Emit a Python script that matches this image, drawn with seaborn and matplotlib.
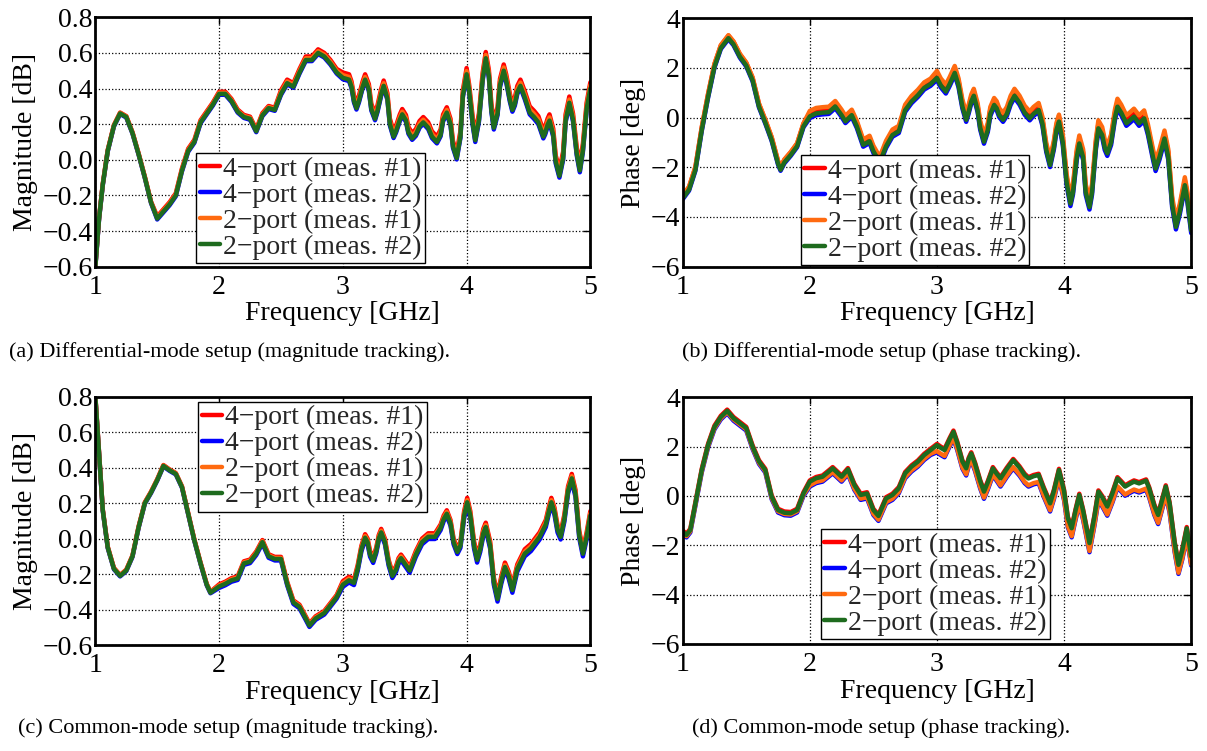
import seaborn as sns
import matplotlib.pyplot as plt
from matplotlib.ticker import FuncFormatter

# ---- data (frequency in GHz) ----
series_labels = ['4\u2212port (meas. #1)', '4\u2212port (meas. #2)',
                 '2\u2212port (meas. #1)', '2\u2212port (meas. #2)']
series_colors = ['#FF0000', '#0000FF', '#FF6A10', '#1E6B1E']

# (a) differential-mode magnitude [dB]
a_freq = [1.00, 1.03, 1.06, 1.10, 1.15, 1.20, 1.25, 1.30, 1.35, 1.40,
          1.45, 1.50, 1.55, 1.60, 1.65, 1.70, 1.75, 1.80, 1.85, 1.90,
          1.95, 2.00, 2.05, 2.10, 2.15, 2.20, 2.25, 2.30, 2.35, 2.40,
          2.45, 2.50, 2.55, 2.60, 2.65, 2.70, 2.75, 2.80, 2.85, 2.90,
          2.95, 3.00, 3.05, 3.07, 3.09, 3.11, 3.13, 3.16, 3.18, 3.21,
          3.23, 3.26, 3.28, 3.31, 3.33, 3.36, 3.38, 3.41, 3.43, 3.46,
          3.48, 3.51, 3.53, 3.56, 3.59, 3.62, 3.65, 3.69, 3.72, 3.76,
          3.79, 3.81, 3.84, 3.87, 3.89, 3.92, 3.95, 3.97, 4.00, 4.02,
          4.05, 4.07, 4.10, 4.13, 4.155, 4.18, 4.20, 4.22, 4.25, 4.27,
          4.30, 4.32, 4.35, 4.37, 4.39, 4.41, 4.435, 4.47, 4.51, 4.545,
          4.58, 4.60, 4.62, 4.635, 4.655, 4.67, 4.70, 4.72, 4.75, 4.78,
          4.80, 4.83, 4.86, 4.89, 4.915, 4.94, 4.97, 5.00]
a_4p1 = [-0.595, -0.325, -0.135, 0.055, 0.195, 0.265, 0.245, 0.155, 0.035, -0.095,
         -0.235, -0.318, -0.278, -0.238, -0.188, -0.048, 0.062, 0.112, 0.222, 0.272,
         0.322, 0.382, 0.382, 0.342, 0.282, 0.252, 0.242, 0.172, 0.262, 0.302,
         0.292, 0.390, 0.450, 0.430, 0.510, 0.580, 0.580, 0.620, 0.600, 0.560,
         0.510, 0.490, 0.480, 0.440, 0.360, 0.320, 0.360, 0.440, 0.480, 0.425,
         0.315, 0.260, 0.306, 0.399, 0.445, 0.374, 0.231, 0.160, 0.191, 0.254,
         0.285, 0.251, 0.184, 0.150, 0.172, 0.218, 0.240, 0.210, 0.160, 0.130,
         0.170, 0.254, 0.295, 0.230, 0.105, 0.040, 0.160, 0.390, 0.515, 0.425,
         0.235, 0.145, 0.260, 0.490, 0.605, 0.505, 0.315, 0.215, 0.295, 0.455,
         0.535, 0.480, 0.370, 0.315, 0.349, 0.415, 0.450, 0.385, 0.300, 0.275,
         0.245, 0.205, 0.165, 0.187, 0.232, 0.255, 0.175, 0.025, -0.055, 0.045,
         0.255, 0.355, 0.260, 0.070, -0.025, 0.090, 0.320, 0.435]
a_4p2 = [-0.603, -0.333, -0.143, 0.047, 0.187, 0.257, 0.237, 0.147, 0.027, -0.103,
         -0.243, -0.335, -0.295, -0.255, -0.205, -0.065, 0.045, 0.095, 0.205, 0.255,
         0.305, 0.365, 0.365, 0.325, 0.265, 0.235, 0.225, 0.155, 0.245, 0.285,
         0.275, 0.364, 0.424, 0.404, 0.484, 0.554, 0.554, 0.594, 0.574, 0.534,
         0.484, 0.452, 0.442, 0.402, 0.322, 0.282, 0.322, 0.402, 0.442, 0.387,
         0.277, 0.222, 0.268, 0.361, 0.407, 0.336, 0.193, 0.122, 0.153, 0.216,
         0.247, 0.213, 0.146, 0.112, 0.134, 0.180, 0.202, 0.172, 0.122, 0.092,
         0.132, 0.216, 0.257, 0.192, 0.067, 0.002, 0.122, 0.352, 0.470, 0.380,
         0.190, 0.100, 0.215, 0.445, 0.560, 0.460, 0.270, 0.170, 0.250, 0.410,
         0.490, 0.435, 0.325, 0.270, 0.304, 0.370, 0.405, 0.340, 0.255, 0.230,
         0.200, 0.160, 0.120, 0.142, 0.187, 0.210, 0.130, -0.020, -0.100, 0.000,
         0.210, 0.310, 0.215, 0.025, -0.070, 0.045, 0.275, 0.390]
a_2p1 = [-0.597, -0.327, -0.137, 0.053, 0.193, 0.263, 0.243, 0.153, 0.033, -0.097,
         -0.237, -0.324, -0.284, -0.244, -0.194, -0.054, 0.056, 0.106, 0.216, 0.266,
         0.316, 0.376, 0.376, 0.336, 0.276, 0.246, 0.236, 0.166, 0.256, 0.296,
         0.286, 0.380, 0.440, 0.420, 0.500, 0.570, 0.570, 0.610, 0.590, 0.550,
         0.500, 0.475, 0.465, 0.425, 0.345, 0.305, 0.345, 0.425, 0.465, 0.410,
         0.300, 0.245, 0.291, 0.384, 0.430, 0.359, 0.216, 0.145, 0.176, 0.239,
         0.270, 0.236, 0.169, 0.135, 0.157, 0.203, 0.225, 0.195, 0.145, 0.115,
         0.155, 0.239, 0.280, 0.215, 0.090, 0.025, 0.145, 0.375, 0.498, 0.408,
         0.218, 0.128, 0.243, 0.473, 0.588, 0.488, 0.298, 0.198, 0.278, 0.438,
         0.518, 0.463, 0.353, 0.298, 0.332, 0.398, 0.433, 0.368, 0.283, 0.258,
         0.228, 0.188, 0.148, 0.170, 0.215, 0.238, 0.158, 0.008, -0.072, 0.028,
         0.238, 0.338, 0.243, 0.053, -0.042, 0.073, 0.303, 0.418]
a_2p2 = [-0.600, -0.330, -0.140, 0.050, 0.190, 0.260, 0.240, 0.150, 0.030, -0.100,
         -0.240, -0.330, -0.290, -0.250, -0.200, -0.060, 0.050, 0.100, 0.210, 0.260,
         0.310, 0.370, 0.370, 0.330, 0.270, 0.240, 0.230, 0.160, 0.250, 0.290,
         0.280, 0.370, 0.430, 0.410, 0.490, 0.560, 0.560, 0.600, 0.580, 0.540,
         0.490, 0.460, 0.450, 0.410, 0.330, 0.290, 0.330, 0.410, 0.450, 0.395,
         0.285, 0.230, 0.276, 0.369, 0.415, 0.344, 0.201, 0.130, 0.161, 0.224,
         0.255, 0.221, 0.154, 0.120, 0.142, 0.188, 0.210, 0.180, 0.130, 0.100,
         0.140, 0.224, 0.265, 0.200, 0.075, 0.010, 0.130, 0.360, 0.480, 0.390,
         0.200, 0.110, 0.225, 0.455, 0.570, 0.470, 0.280, 0.180, 0.260, 0.420,
         0.500, 0.445, 0.335, 0.280, 0.314, 0.380, 0.415, 0.350, 0.265, 0.240,
         0.210, 0.170, 0.130, 0.152, 0.197, 0.220, 0.140, -0.010, -0.090, 0.010,
         0.220, 0.320, 0.225, 0.035, -0.060, 0.055, 0.285, 0.400]

# (b) differential-mode phase [deg]
b_freq = [1.00, 1.05, 1.10, 1.15, 1.20, 1.25, 1.30, 1.36, 1.40, 1.45,
          1.50, 1.55, 1.60, 1.65, 1.70, 1.75, 1.77, 1.80, 1.85, 1.90,
          1.95, 2.00, 2.05, 2.10, 2.15, 2.20, 2.25, 2.28, 2.33, 2.37,
          2.42, 2.47, 2.50, 2.55, 2.60, 2.65, 2.70, 2.75, 2.80, 2.85,
          2.90, 2.95, 3.00, 3.03, 3.07, 3.10, 3.14, 3.17, 3.20, 3.23,
          3.25, 3.27, 3.29, 3.32, 3.34, 3.37, 3.40, 3.42, 3.45, 3.47,
          3.49, 3.52, 3.55, 3.58, 3.61, 3.65, 3.69, 3.73, 3.76, 3.80,
          3.83, 3.86, 3.89, 3.92, 3.94, 3.96, 3.99, 4.02, 4.05, 4.07,
          4.10, 4.12, 4.15, 4.17, 4.20, 4.22, 4.25, 4.27, 4.30, 4.32,
          4.34, 4.37, 4.40, 4.42, 4.45, 4.49, 4.52, 4.55, 4.59, 4.63,
          4.66, 4.70, 4.72, 4.75, 4.79, 4.82, 4.85, 4.88, 4.91, 4.95,
          4.97, 5.00]
b_4p1 = [-3.15, -2.80, -2.00, -0.40, 0.95, 2.15, 2.90, 3.30, 3.05, 2.55,
         2.20, 1.60, 0.55, -0.10, -0.80, -1.75, -2.00, -1.70, -1.40, -1.05,
         -0.25, 0.20, 0.32, 0.35, 0.37, 0.60, 0.25, 0.00, 0.25, -0.20,
         -0.95, -0.80, -1.20, -1.65, -1.00, -0.55, -0.40, 0.45, 0.80, 1.05,
         1.35, 1.50, 1.78, 1.48, 1.23, 1.53, 1.98, 1.48, 0.63, 0.09,
         0.43, 0.83, 1.06, 0.48, -0.22, -0.79, -0.32, 0.33, 0.69, 0.56,
         0.28, 0.09, 0.33, 0.78, 1.06, 0.78, 0.38, 0.15, 0.33, 0.49,
         -0.07, -1.12, -1.73, -1.02, -0.32, 0.02, -0.80, -2.40, -3.26, -2.80,
         -1.40, -0.84, -1.40, -2.80, -3.40, -2.80, -1.00, -0.23, -0.50, -1.00,
         -1.24, -0.80, 0.20, 0.64, 0.40, -0.03, 0.10, 0.24, -0.03, 0.17,
         -0.40, -1.40, -1.85, -1.40, -0.64, -1.40, -3.30, -4.20, -3.60, -2.52,
         -3.10, -4.35]
b_4p2 = [-3.29, -2.94, -2.14, -0.54, 0.81, 2.01, 2.76, 3.16, 2.91, 2.41,
         2.06, 1.46, 0.41, -0.24, -0.94, -1.89, -2.14, -1.84, -1.54, -1.19,
         -0.39, -0.02, 0.10, 0.13, 0.15, 0.38, 0.03, -0.22, 0.03, -0.42,
         -1.17, -1.02, -1.42, -1.87, -1.22, -0.77, -0.62, 0.23, 0.58, 0.83,
         1.13, 1.28, 1.52, 1.22, 0.97, 1.27, 1.72, 1.22, 0.37, -0.17,
         0.17, 0.57, 0.80, 0.22, -0.48, -1.05, -0.58, 0.07, 0.43, 0.30,
         0.02, -0.17, 0.07, 0.52, 0.80, 0.52, 0.12, -0.11, 0.07, 0.23,
         -0.33, -1.38, -1.99, -1.28, -0.58, -0.24, -1.10, -2.70, -3.56, -3.10,
         -1.70, -1.14, -1.70, -3.10, -3.70, -3.10, -1.30, -0.53, -0.80, -1.30,
         -1.54, -1.10, -0.10, 0.34, 0.10, -0.33, -0.20, -0.06, -0.33, -0.13,
         -0.70, -1.70, -2.15, -1.70, -0.94, -1.70, -3.60, -4.50, -3.90, -2.82,
         -3.40, -4.65]
b_2p1 = [-3.13, -2.78, -1.98, -0.38, 0.97, 2.17, 2.92, 3.32, 3.07, 2.57,
         2.22, 1.62, 0.57, -0.08, -0.78, -1.73, -1.98, -1.68, -1.38, -1.03,
         -0.23, 0.27, 0.39, 0.42, 0.44, 0.67, 0.32, 0.07, 0.32, -0.13,
         -0.88, -0.73, -1.13, -1.58, -0.93, -0.48, -0.33, 0.52, 0.87, 1.12,
         1.42, 1.57, 1.88, 1.58, 1.33, 1.63, 2.08, 1.58, 0.73, 0.19,
         0.53, 0.93, 1.16, 0.58, -0.12, -0.69, -0.22, 0.43, 0.79, 0.66,
         0.38, 0.19, 0.43, 0.88, 1.16, 0.88, 0.48, 0.25, 0.43, 0.59,
         0.03, -1.02, -1.63, -0.92, -0.22, 0.12, -0.68, -2.28, -3.14, -2.68,
         -1.28, -0.72, -1.28, -2.68, -3.28, -2.68, -0.88, -0.11, -0.38, -0.88,
         -1.12, -0.68, 0.32, 0.76, 0.52, 0.09, 0.22, 0.36, 0.09, 0.29,
         -0.28, -1.28, -1.73, -1.28, -0.52, -1.28, -3.18, -4.08, -3.48, -2.40,
         -2.98, -4.23]
b_2p2 = [-3.25, -2.90, -2.10, -0.50, 0.85, 2.05, 2.80, 3.20, 2.95, 2.45,
         2.10, 1.50, 0.45, -0.20, -0.90, -1.85, -2.10, -1.80, -1.50, -1.15,
         -0.35, 0.05, 0.17, 0.20, 0.22, 0.45, 0.10, -0.15, 0.10, -0.35,
         -1.10, -0.95, -1.35, -1.80, -1.15, -0.70, -0.55, 0.30, 0.65, 0.90,
         1.20, 1.35, 1.60, 1.30, 1.05, 1.35, 1.80, 1.30, 0.45, -0.09,
         0.25, 0.65, 0.88, 0.30, -0.40, -0.97, -0.50, 0.15, 0.51, 0.38,
         0.10, -0.09, 0.15, 0.60, 0.88, 0.60, 0.20, -0.03, 0.15, 0.31,
         -0.25, -1.30, -1.91, -1.20, -0.50, -0.16, -1.00, -2.60, -3.46, -3.00,
         -1.60, -1.04, -1.60, -3.00, -3.60, -3.00, -1.20, -0.43, -0.70, -1.20,
         -1.44, -1.00, 0.00, 0.44, 0.20, -0.23, -0.10, 0.04, -0.23, -0.03,
         -0.60, -1.60, -2.05, -1.60, -0.84, -1.60, -3.50, -4.40, -3.80, -2.72,
         -3.30, -4.55]

# (c) common-mode magnitude [dB]
c_freq = [1.00, 1.03, 1.06, 1.10, 1.15, 1.20, 1.25, 1.30, 1.35, 1.40,
          1.45, 1.50, 1.55, 1.60, 1.65, 1.70, 1.75, 1.80, 1.85, 1.90,
          1.93, 2.00, 2.05, 2.10, 2.15, 2.20, 2.25, 2.30, 2.35, 2.40,
          2.45, 2.50, 2.55, 2.60, 2.65, 2.70, 2.73, 2.78, 2.85, 2.90,
          2.95, 3.00, 3.05, 3.09, 3.12, 3.15, 3.18, 3.20, 3.22, 3.245,
          3.27, 3.29, 3.31, 3.34, 3.37, 3.40, 3.43, 3.45, 3.47, 3.50,
          3.54, 3.59, 3.64, 3.69, 3.745, 3.79, 3.815, 3.84, 3.87, 3.895,
          3.925, 3.95, 3.98, 4.005, 4.03, 4.06, 4.085, 4.11, 4.135, 4.155,
          4.19, 4.22, 4.25, 4.28, 4.31, 4.34, 4.37, 4.41, 4.47, 4.52,
          4.59, 4.64, 4.665, 4.685, 4.71, 4.735, 4.76, 4.79, 4.82, 4.85,
          4.88, 4.91, 4.94, 4.97, 5.00]
c_4p1 = [0.805, 0.485, 0.165, -0.045, -0.165, -0.205, -0.175, -0.095, 0.070, 0.205,
         0.265, 0.335, 0.415, 0.390, 0.370, 0.295, 0.145, -0.005, -0.135, -0.255,
         -0.300, -0.258, -0.243, -0.223, -0.213, -0.128, -0.118, -0.073, -0.008, -0.088,
         -0.103, -0.103, -0.243, -0.348, -0.373, -0.438, -0.478, -0.438, -0.408, -0.363,
         -0.318, -0.240, -0.215, -0.230, -0.150, -0.040, 0.025, 0.000, -0.070, -0.105,
         -0.050, 0.020, 0.055, 0.000, -0.120, -0.190, -0.155, -0.110, -0.090, -0.120,
         -0.160, -0.070, 0.000, 0.030, 0.030, 0.080, 0.130, 0.160, 0.105, 0.000,
         -0.055, -0.020, 0.155, 0.230, 0.155, -0.015, -0.095, -0.035, 0.055, 0.090,
         -0.015, -0.220, -0.315, -0.215, -0.135, -0.185, -0.265, -0.145, -0.060, -0.030,
         0.035, 0.105, 0.180, 0.230, 0.175, 0.075, 0.035, 0.135, 0.295, 0.365,
         0.275, 0.045, -0.060, 0.035, 0.155]
c_4p2 = [0.797, 0.477, 0.157, -0.053, -0.173, -0.213, -0.183, -0.103, 0.062, 0.197,
         0.257, 0.327, 0.407, 0.382, 0.362, 0.287, 0.137, -0.013, -0.143, -0.263,
         -0.308, -0.278, -0.263, -0.243, -0.233, -0.148, -0.138, -0.093, -0.028, -0.108,
         -0.123, -0.123, -0.263, -0.368, -0.393, -0.458, -0.498, -0.458, -0.428, -0.383,
         -0.338, -0.272, -0.247, -0.262, -0.182, -0.072, -0.007, -0.032, -0.102, -0.137,
         -0.082, -0.012, 0.023, -0.032, -0.152, -0.222, -0.187, -0.142, -0.122, -0.152,
         -0.192, -0.102, -0.032, -0.002, -0.002, 0.048, 0.098, 0.128, 0.073, -0.032,
         -0.087, -0.052, 0.115, 0.190, 0.115, -0.055, -0.135, -0.075, 0.015, 0.050,
         -0.055, -0.260, -0.355, -0.255, -0.175, -0.225, -0.305, -0.185, -0.100, -0.070,
         -0.005, 0.065, 0.140, 0.190, 0.135, 0.035, -0.005, 0.095, 0.255, 0.325,
         0.235, 0.005, -0.100, -0.005, 0.115]
c_2p1 = [0.803, 0.483, 0.163, -0.047, -0.167, -0.207, -0.177, -0.097, 0.068, 0.203,
         0.263, 0.333, 0.413, 0.388, 0.368, 0.293, 0.143, -0.007, -0.137, -0.257,
         -0.302, -0.264, -0.249, -0.229, -0.219, -0.134, -0.124, -0.079, -0.014, -0.094,
         -0.109, -0.109, -0.249, -0.354, -0.379, -0.444, -0.484, -0.444, -0.414, -0.369,
         -0.324, -0.250, -0.225, -0.240, -0.160, -0.050, 0.015, -0.010, -0.080, -0.115,
         -0.060, 0.010, 0.045, -0.010, -0.130, -0.200, -0.165, -0.120, -0.100, -0.130,
         -0.170, -0.080, -0.010, 0.020, 0.020, 0.070, 0.120, 0.150, 0.095, -0.010,
         -0.065, -0.030, 0.142, 0.217, 0.142, -0.028, -0.108, -0.048, 0.042, 0.077,
         -0.028, -0.233, -0.328, -0.228, -0.148, -0.198, -0.278, -0.158, -0.073, -0.043,
         0.022, 0.092, 0.167, 0.217, 0.162, 0.062, 0.022, 0.122, 0.282, 0.352,
         0.262, 0.032, -0.073, 0.022, 0.142]
c_2p2 = [0.800, 0.480, 0.160, -0.050, -0.170, -0.210, -0.180, -0.100, 0.065, 0.200,
         0.260, 0.330, 0.410, 0.385, 0.365, 0.290, 0.140, -0.010, -0.140, -0.260,
         -0.305, -0.270, -0.255, -0.235, -0.225, -0.140, -0.130, -0.085, -0.020, -0.100,
         -0.115, -0.115, -0.255, -0.360, -0.385, -0.450, -0.490, -0.450, -0.420, -0.375,
         -0.330, -0.260, -0.235, -0.250, -0.170, -0.060, 0.005, -0.020, -0.090, -0.125,
         -0.070, 0.000, 0.035, -0.020, -0.140, -0.210, -0.175, -0.130, -0.110, -0.140,
         -0.180, -0.090, -0.020, 0.010, 0.010, 0.060, 0.110, 0.140, 0.085, -0.020,
         -0.075, -0.040, 0.130, 0.205, 0.130, -0.040, -0.120, -0.060, 0.030, 0.065,
         -0.040, -0.245, -0.340, -0.240, -0.160, -0.210, -0.290, -0.170, -0.085, -0.055,
         0.010, 0.080, 0.155, 0.205, 0.150, 0.050, 0.010, 0.110, 0.270, 0.340,
         0.250, 0.020, -0.085, 0.010, 0.130]

# (d) common-mode phase [deg]
d_freq = [1.00, 1.03, 1.06, 1.10, 1.15, 1.20, 1.25, 1.30, 1.35, 1.40,
          1.45, 1.50, 1.55, 1.60, 1.65, 1.70, 1.75, 1.80, 1.85, 1.90,
          1.95, 2.00, 2.05, 2.10, 2.15, 2.18, 2.25, 2.30, 2.35, 2.40,
          2.45, 2.50, 2.54, 2.60, 2.65, 2.70, 2.75, 2.80, 2.85, 2.90,
          2.95, 3.00, 3.03, 3.06, 3.10, 3.13, 3.16, 3.20, 3.23, 3.25,
          3.27, 3.30, 3.34, 3.37, 3.40, 3.44, 3.47, 3.50, 3.55, 3.60,
          3.65, 3.69, 3.72, 3.76, 3.80, 3.84, 3.89, 3.92, 3.96, 4.00,
          4.03, 4.06, 4.09, 4.12, 4.15, 4.20, 4.24, 4.27, 4.30, 4.34,
          4.38, 4.42, 4.45, 4.48, 4.52, 4.55, 4.59, 4.645, 4.67, 4.71,
          4.74, 4.77, 4.80, 4.83, 4.87, 4.90, 4.93, 4.965, 5.00]
d_4p1 = [-1.40, -1.53, -1.33, -0.25, 1.10, 2.12, 2.85, 3.25, 3.50, 3.20,
         3.00, 2.80, 2.05, 1.45, 1.10, 0.02, -0.52, -0.63, -0.65, -0.52,
         0.15, 0.63, 0.77, 0.83, 1.04, 1.17, 0.83, 1.13, 0.50, 0.09,
         0.15, -0.52, -0.76, -0.05, 0.09, 0.36, 0.97, 1.24, 1.44, 1.71,
         1.91, 2.11, 2.00, 1.91, 2.35, 2.65, 2.20, 1.45, 1.17, 1.55,
         1.77, 1.35, 0.65, 0.225, 0.60, 1.17, 0.95, 0.76, 1.15, 1.50,
         1.20, 0.90, 0.76, 0.85, 0.90, 0.35, -0.25, 0.25, 1.10, 0.25,
         -0.85, -1.26, -0.55, 0.09, -0.55, -1.86, -0.75, 0.225, 0.00, -0.38,
         0.15, 0.76, 0.60, 0.43, 0.55, 0.63, 0.56, 0.67, 0.35, -0.35,
         -0.72, -0.15, 0.43, -0.25, -1.85, -2.74, -2.15, -1.26, -2.40]
d_4p2 = [-1.55, -1.68, -1.48, -0.40, 0.95, 1.97, 2.70, 3.10, 3.35, 3.05,
         2.85, 2.65, 1.90, 1.30, 0.95, -0.13, -0.67, -0.78, -0.80, -0.67,
         0.00, 0.38, 0.52, 0.58, 0.79, 0.92, 0.58, 0.88, 0.25, -0.16,
         -0.10, -0.77, -1.01, -0.30, -0.16, 0.11, 0.72, 0.99, 1.19, 1.46,
         1.66, 1.77, 1.66, 1.57, 2.01, 2.31, 1.86, 1.11, 0.83, 1.21,
         1.43, 1.01, 0.31, -0.115, 0.26, 0.83, 0.61, 0.38, 0.77, 1.12,
         0.82, 0.52, 0.38, 0.47, 0.52, -0.03, -0.63, -0.13, 0.72, -0.17,
         -1.27, -1.68, -0.97, -0.33, -0.97, -2.28, -1.17, -0.195, -0.42, -0.80,
         -0.27, 0.34, 0.18, 0.01, 0.13, 0.21, 0.14, 0.25, -0.07, -0.77,
         -1.14, -0.57, 0.01, -0.67, -2.27, -3.16, -2.57, -1.68, -2.82]
d_2p1 = [-1.50, -1.63, -1.43, -0.35, 1.00, 2.02, 2.75, 3.15, 3.40, 3.10,
         2.90, 2.70, 1.95, 1.35, 1.00, -0.08, -0.62, -0.73, -0.75, -0.62,
         0.05, 0.43, 0.57, 0.63, 0.84, 0.97, 0.63, 0.93, 0.30, -0.11,
         -0.05, -0.72, -0.96, -0.25, -0.11, 0.16, 0.77, 1.04, 1.24, 1.51,
         1.71, 1.82, 1.71, 1.62, 2.06, 2.36, 1.91, 1.16, 0.88, 1.26,
         1.48, 1.06, 0.36, -0.065, 0.31, 0.88, 0.66, 0.43, 0.82, 1.17,
         0.87, 0.57, 0.43, 0.52, 0.57, 0.02, -0.58, -0.08, 0.77, -0.12,
         -1.22, -1.63, -0.92, -0.28, -0.92, -2.23, -1.12, -0.145, -0.37, -0.75,
         -0.22, 0.39, 0.23, 0.06, 0.18, 0.26, 0.19, 0.30, -0.02, -0.72,
         -1.09, -0.52, 0.06, -0.62, -2.22, -3.11, -2.52, -1.63, -2.77]
d_2p2 = [-1.45, -1.58, -1.38, -0.30, 1.05, 2.07, 2.80, 3.20, 3.45, 3.15,
         2.95, 2.75, 2.00, 1.40, 1.05, -0.03, -0.57, -0.68, -0.70, -0.57,
         0.10, 0.58, 0.72, 0.78, 0.99, 1.12, 0.78, 1.08, 0.45, 0.04,
         0.10, -0.57, -0.81, -0.10, 0.04, 0.31, 0.92, 1.19, 1.39, 1.66,
         1.86, 2.06, 1.95, 1.86, 2.30, 2.60, 2.15, 1.40, 1.12, 1.50,
         1.72, 1.30, 0.60, 0.175, 0.55, 1.12, 0.90, 0.71, 1.10, 1.45,
         1.15, 0.85, 0.71, 0.80, 0.85, 0.30, -0.30, 0.20, 1.05, 0.20,
         -0.90, -1.31, -0.60, 0.04, -0.60, -1.91, -0.80, 0.175, -0.05, -0.43,
         0.10, 0.71, 0.55, 0.38, 0.50, 0.58, 0.51, 0.62, 0.30, -0.40,
         -0.77, -0.20, 0.38, -0.30, -1.90, -2.79, -2.20, -1.31, -2.45]

freq_ticks = [1, 2, 3, 4, 5]
mag_ticks = [-0.6, -0.4, -0.2, 0.0, 0.2, 0.4, 0.6, 0.8]
phase_ticks = [-6, -4, -2, 0, 2, 4]

captions = ['(a) Differential-mode setup (magnitude tracking).',
            '(b) Differential-mode setup (phase tracking).',
            '(c) Common-mode setup (magnitude tracking).',
            '(d) Common-mode setup (phase tracking).']

sns.set_theme(style='white')
plt.rcParams['font.family'] = ['Liberation Serif', 'DejaVu Serif']


def minus_fmt(fmt):
    return FuncFormatter(lambda v, p: (fmt % v).replace('-', '\u2212'))


def draw_panel(ax, freq, series, ylabel, yticks, yfmt, leg_loc, leg_anchor):
    for vals, col, lab in zip(series, series_colors, series_labels):
        sns.lineplot(x=freq, y=vals, ax=ax, color=col, linewidth=3.2,
                     label=lab, estimator=None, sort=False)
    ax.set_xlim(1, 5)
    ax.set_ylim(yticks[0], yticks[-1])
    ax.set_xticks(freq_ticks)
    ax.set_yticks(yticks)
    ax.xaxis.set_major_formatter(minus_fmt('%d'))
    ax.yaxis.set_major_formatter(minus_fmt(yfmt))
    ax.grid(True, color='black', linestyle=':', linewidth=0.9)
    ax.tick_params(axis='both', direction='in', length=5, width=1,
                   top=True, right=True, labelsize=20, colors='black')
    ax.tick_params(axis='x', pad=6)
    ax.tick_params(axis='y', pad=2)
    for sp in ax.spines.values():
        sp.set_visible(True)
        sp.set_color('black')
        sp.set_linewidth(2)
    ax.set_xlabel('Frequency [GHz]', fontsize=20, labelpad=1, color='black')
    ax.set_ylabel(ylabel, fontsize=20, labelpad=3, color='black')
    leg = ax.legend(loc=leg_loc, bbox_to_anchor=leg_anchor, fontsize=20,
                    frameon=True, fancybox=False, framealpha=1,
                    edgecolor='black', handlelength=0.75, handletextpad=0.1,
                    borderpad=0.12, labelspacing=0.02, borderaxespad=0)
    leg.get_frame().set_linewidth(1.0)
    for ln in leg.get_lines():
        ln.set_linewidth(3.2)


fig = plt.figure(figsize=(12.07, 7.51), dpi=100)
ax_a = fig.add_axes([0.0790, 0.6449, 0.4101, 0.3321])
ax_b = fig.add_axes([0.5656, 0.6449, 0.4213, 0.3308])
ax_c = fig.add_axes([0.0790, 0.1411, 0.4101, 0.3306])
ax_d = fig.add_axes([0.5656, 0.1425, 0.4213, 0.3285])

draw_panel(ax_a, a_freq, [a_4p1, a_4p2, a_2p1, a_2p2], 'Magnitude [dB]',
           mag_ticks, '%.1f', 'lower left', (0.204, 0.015))
draw_panel(ax_b, b_freq, [b_4p1, b_4p2, b_2p1, b_2p2], 'Phase [deg]',
           phase_ticks, '%d', 'lower left', (0.232, 0.007))
draw_panel(ax_c, c_freq, [c_4p1, c_4p2, c_2p1, c_2p2], 'Magnitude [dB]',
           mag_ticks, '%.1f', 'upper left', (0.208, 0.98))
draw_panel(ax_d, d_freq, [d_4p1, d_4p2, d_2p1, d_2p2], 'Phase [deg]',
           phase_ticks, '%d', 'lower left', (0.272, 0.019))

cap_pos = [(0.1906, 0.5313), (0.7307, 0.5313), (0.1889, 0.0306), (0.7299, 0.0306)]
for (cx, cy), txt in zip(cap_pos, captions):
    fig.text(cx, cy, txt, ha='center', va='center', fontsize=16, color='black')

fig.savefig('out.png', dpi=100, facecolor='white')
